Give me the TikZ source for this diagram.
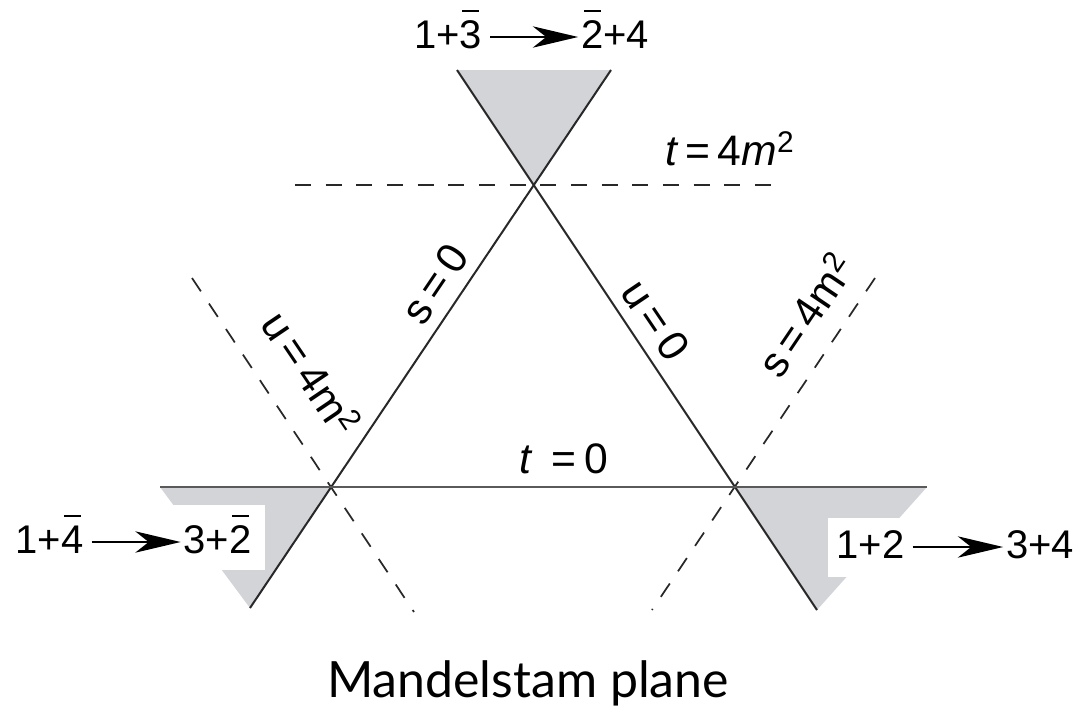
\documentclass[tikz,border=0pt]{standalone}
\usepackage{fontspec}
\setmainfont{Liberation Sans}
\newfontfamily\capfont{Lato}
\usetikzlibrary{arrows.meta,calc}
\definecolor{conegray}{RGB}{211,212,215}
\definecolor{ink}{RGB}{40,40,40}
\definecolor{tline}{RGB}{90,90,90}
\newsavebox\obbox
\newcommand\ob[1]{\sbox\obbox{#1}\makebox[0pt][l]{\makebox[\wd\obbox]{\rule[0.9em]{0.42em}{0.05em}}}\usebox\obbox}
\begin{document}
\begin{tikzpicture}[x=0.75pt,y=-0.75pt,
  every node/.style={font=\fontsize{30}{36}\selectfont, inner sep=0pt, text=black},
  solidln/.style={draw=ink, line width=1.5pt},
  tln/.style={draw=tline, line width=1.5pt},
  dashln/.style={draw=ink, line width=1.3pt, dash pattern=on 12pt off 11pt},
  react/.style={draw=black, line width=1.3pt, -{Stealth[length=34pt,width=16pt,inset=10pt]}, shorten <=6pt, shorten >=2pt},
  lbl/.style={font=\fontsize{32}{38}\selectfont},
]
\useasboundingbox (0,0) rectangle (1083,707);
\coordinate (T) at (534,185);
\coordinate (L) at (331,487);
\coordinate (R) at (735,487);
\coordinate (s0a) at (611,70);
\coordinate (s0b) at (250,608);
\coordinate (u0a) at (457,70);
\coordinate (u0b) at (817,610);
\coordinate (t0a) at (160,487);
\coordinate (t0b) at (927,487);
% shaded regions
\fill[conegray] (u0a) -- (s0a) -- (T) -- cycle;
\fill[conegray] (t0a) -- (L) -- (s0b) -- cycle;
\fill[conegray] (R) -- (t0b) -- (u0b) -- cycle;
% white label boxes
\fill[white] (150,505) rectangle (265,570);
\fill[white] (828,518) rectangle (935,577);
% dashed lines
\coordinate (t4a) at (295,185);
\coordinate (t4b) at (778,185);
\coordinate (u4a) at (192,278);
\coordinate (u4b) at (414,612);
\coordinate (s4a) at (875,278);
\coordinate (s4b) at (652,610);
\draw[dashln] (t4a) -- (t4b);
\draw[dashln] (u4a) -- (u4b);
\draw[dashln] (s4a) -- (s4b);
% solid lines
\draw[solidln] (s0a) -- (s0b);
\draw[solidln] (u0a) -- (u0b);
\draw[tln] (t0a) -- (t0b);
% reactions
\node[anchor=base] (r1a) at (448,48) {1+\ob{3}};
\node[anchor=base] (r1b) at (615,48) {\ob{2}+4};
\draw[react] ($(r1a.base east)+(0,-11)$) -- ($(r1b.base west)+(0,-11)$);
\node[anchor=base] (r2a) at (49.5,553) {1+\ob{4}};
\node[anchor=base] (r2b) at (217.5,553) {3+\ob{2}};
\draw[react] ($(r2a.base east)+(0,-11)$) -- ($(r2b.base west)+(0,-11)$);
\node[anchor=base] (r3a) at (870.5,558) {1+2};
\node[anchor=base] (r3b) at (1040,558) {3+4};
\draw[react] ($(r3a.base east)+(0,-11)$) -- ($(r3b.base west)+(0,-11)$);
% line labels
\node[lbl, anchor=base] (tl4) at (730,165) {\textit{t}\,=\,4\textit{m}\textsuperscript{2}};
\node[lbl, anchor=base] (tl0) at (564,473) {\textit{t}\hspace{0.42em}=\hspace{0.2em}0};
\node[lbl, rotate=56] (sl0) at (435,284) {s\,=\,0};
\node[lbl, rotate=-56] (ul0) at (656,320) {u\,=\,0};
\node[lbl, rotate=56] (sl4) at (805,315) {s\,=\,4m\textsuperscript{2}};
\node[lbl, rotate=-56] (ul4) at (312,373) {u\,=\,4m\textsuperscript{2}};
% caption
\node[font=\capfont\fontsize{37.5}{44}\selectfont, anchor=base] (cap) at (528,697) {Mandelstam plane};
\end{tikzpicture}
\end{document}
